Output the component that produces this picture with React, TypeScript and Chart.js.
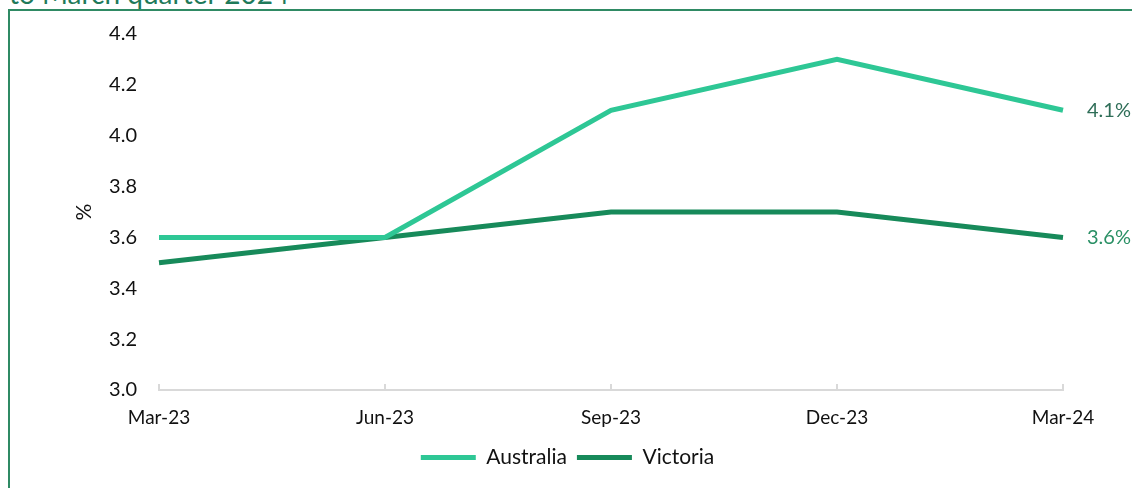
import React, { useEffect, useRef } from "react";
import { Chart, registerables } from "chart.js";

Chart.register(...registerables);

const categories = ["Mar-23", "Jun-23", "Sep-23", "Dec-23", "Mar-24"];
const australia = [3.6, 3.6, 4.1, 4.3, 4.1];
const victoria = [3.5, 3.6, 3.7, 3.7, 3.6];
const seriesNames = ["Australia", "Victoria"];
const seriesColors = ["#2ec795", "#178a5a"];
const endLabelColors = ["#2f6e58", "#2a9065"];
const titleText = "to March quarter 2024";

const FONT = "Lato, 'Noto Sans', sans-serif";

const endLabelsPlugin = {
  id: "endLabels",
  afterDatasetsDraw(chart: any) {
    const ctx = chart.ctx;
    ctx.save();
    ctx.font = `20px ${FONT}`;
    ctx.textAlign = "left";
    ctx.textBaseline = "middle";
    chart.data.datasets.forEach((ds: any, i: number) => {
      const meta = chart.getDatasetMeta(i);
      const pt = meta.data[meta.data.length - 1];
      const v = ds.data[ds.data.length - 1];
      ctx.fillStyle = endLabelColors[i];
      ctx.fillText(v.toFixed(1) + "%", pt.x + 24, pt.y);
    });
    ctx.restore();
  },
};

const insideTicksPlugin = {
  id: "insideTicks",
  afterDraw(chart: any) {
    const sx = chart.scales.x;
    const ctx = chart.ctx;
    ctx.save();
    ctx.strokeStyle = "#d9d9d9";
    ctx.lineWidth = 2;
    sx.ticks.forEach((_t: any, i: number) => {
      const px = Math.round(sx.getPixelForTick(i));
      ctx.beginPath();
      ctx.moveTo(px, sx.top);
      ctx.lineTo(px, sx.top - 6);
      ctx.stroke();
    });
    ctx.restore();
  },
};

export default function App() {
  const ref = useRef<HTMLCanvasElement | null>(null);

  useEffect(() => {
    if (!ref.current) return;
    const chart = new Chart(ref.current, {
      type: "line",
      data: {
        labels: categories,
        datasets: [
          {
            label: seriesNames[0],
            data: australia,
            borderColor: seriesColors[0],
            backgroundColor: seriesColors[0],
            borderWidth: 5,
            pointRadius: 0,
            tension: 0,
          },
          {
            label: seriesNames[1],
            data: victoria,
            borderColor: seriesColors[1],
            backgroundColor: seriesColors[1],
            borderWidth: 5,
            pointRadius: 0,
            tension: 0,
          },
        ],
      },
      options: {
        responsive: false,
        animation: false,
        devicePixelRatio: 1,
        layout: { padding: { left: 72, right: 69, top: 33, bottom: 10 } },
        scales: {
          x: {
            offset: false,
            grid: { display: false, drawTicks: false },
            border: { display: true, color: "#d9d9d9", width: 2 },
            ticks: {
              padding: 16,
              color: "#111",
              font: { family: FONT, size: 19 },
              maxRotation: 0,
            },
            afterFit(scale: any) {
              scale.height = 47;
            },
          },
          y: {
            min: 3.0,
            max: 4.4,
            grid: { display: false, drawTicks: false },
            border: { display: false },
            ticks: {
              stepSize: 0.2,
              padding: 22,
              color: "#111",
              font: { family: FONT, size: 20 },
              callback: (v: any) => Number(v).toFixed(1),
            },
            title: {
              display: true,
              text: "%",
              color: "#111",
              font: { family: FONT, size: 21 },
              padding: 0,
            },
            afterFit(scale: any) {
              scale.width = 87;
            },
          },
        },
        plugins: {
          legend: {
            display: true,
            position: "bottom",
            labels: {
              color: "#111",
              font: { family: FONT, size: 21 },
              boxWidth: 55,
              boxHeight: 5,
              useBorderRadius: true,
              borderRadius: 2.5,
              padding: 10,
              generateLabels: (c: any) =>
                c.data.datasets.map((ds: any, i: number) => ({
                  text: ds.label,
                  fillStyle: seriesColors[i],
                  strokeStyle: seriesColors[i],
                  lineWidth: 0,
                  fontColor: "#111",
                  datasetIndex: i,
                  hidden: false,
                })),
            },
          },
          tooltip: { enabled: false },
        },
      },
      plugins: [endLabelsPlugin, insideTicksPlugin],
    });
    return () => chart.destroy();
  }, []);

  return (
    <div
      style={{
        position: "fixed",
        left: 0,
        top: 0,
        width: 1132,
        height: 488,
        overflow: "hidden",
        background: "#fff",
      }}
    >
      <div
        style={{
          position: "absolute",
          left: 9,
          top: -21,
          fontFamily: FONT,
          fontSize: 28,
          lineHeight: "28px",
          color: "#1f7a5a",
          whiteSpace: "nowrap",
        }}
      >
        {titleText}
      </div>
      <div
        style={{
          position: "absolute",
          left: 8,
          top: 9,
          width: 1200,
          height: 600,
          border: "2px solid #2f8a64",
          boxSizing: "border-box",
        }}
      />
      <canvas
        ref={ref}
        width={1132}
        height={488}
        style={{ position: "absolute", left: 0, top: 0 }}
      />
    </div>
  );
}
